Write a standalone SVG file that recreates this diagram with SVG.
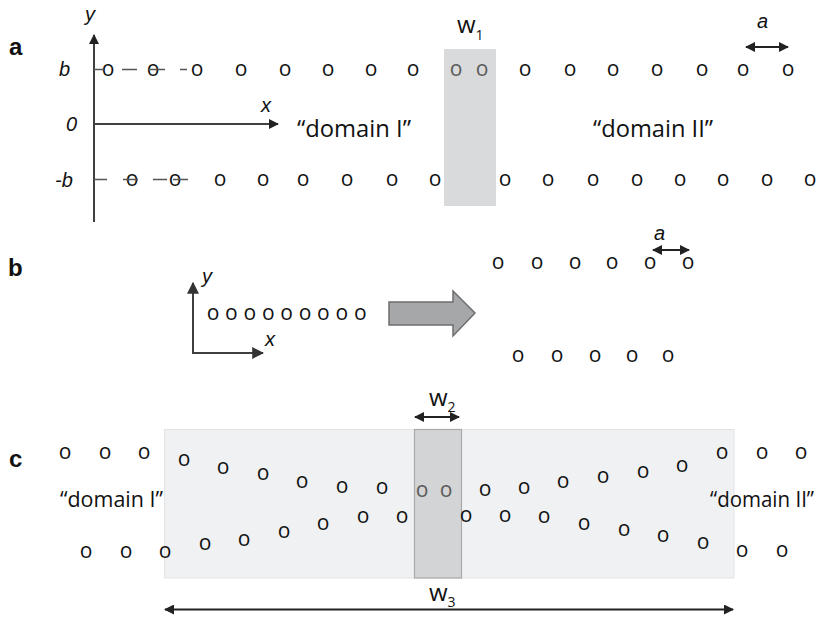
<svg xmlns="http://www.w3.org/2000/svg" width="819" height="619" viewBox="0 0 819 619">
<defs>
<marker id="ah" viewBox="0 0 10 10" refX="9" refY="5" markerWidth="5" markerHeight="5" orient="auto-start-reverse" markerUnits="strokeWidth">
<path d="M0,0 L10,5 L0,10 Z" fill="#222"/>
</marker>
<marker id="ah2" viewBox="0 0 10 10" refX="9" refY="5" markerWidth="6" markerHeight="6" orient="auto-start-reverse" markerUnits="strokeWidth">
<path d="M0,0 L10,5 L0,10 Z" fill="#333"/>
</marker>
<style>
.o{font-family:"Open Sans","Liberation Sans",sans-serif;font-size:21px;fill:#111;text-anchor:middle}
.og{fill:#5a5a5a}
.lab{font-family:"Liberation Sans",Arial,sans-serif;font-weight:bold;font-size:24px;fill:#111}
.it{font-family:"Liberation Sans",Arial,sans-serif;font-style:italic;font-size:20px;fill:#111}
.dom{font-family:"Open Sans","Liberation Sans",sans-serif;fill:#111}
.w{font-family:"Open Sans","Liberation Sans",sans-serif;font-size:24px;fill:#111}
.ax{stroke:#404040;stroke-width:2;fill:none}
.dash{stroke:#555;stroke-width:1.5;fill:none}
.dim{stroke:#222;stroke-width:2;fill:none}
</style>
</defs>
<rect width="819" height="619" fill="#fff"/>

<g id="panel-a">
<text class="lab" x="9" y="55">a</text>
<rect id="w1-region" x="444" y="49" width="52" height="157" fill="#d9dadb"/>
<text class="it" x="85" y="21">y</text>
<text class="it" x="261" y="112">x</text>
<text class="it" x="59" y="76">b</text>
<text class="it" x="66" y="131">0</text>
<text class="it" x="55" y="187">-b</text>
<text class="w" x="457" y="33">w<tspan font-size="14" dy="7">1</tspan></text>
<text class="it" x="757" y="28">a</text>
<text class="dom" font-size="24" x="297" y="137" textLength="114" lengthAdjust="spacingAndGlyphs">“domain I”</text>
<text class="dom" font-size="24" x="593" y="137" textLength="120" lengthAdjust="spacingAndGlyphs">“domain II”</text>
<g id="a-top-row">
<text class="o" x="108" y="76">o</text><text class="o" x="153" y="76">o</text><text class="o" x="197" y="76">o</text><text class="o" x="241" y="76">o</text><text class="o" x="285" y="76">o</text><text class="o" x="328" y="76">o</text><text class="o" x="371" y="76">o</text><text class="o" x="413" y="76">o</text>
<text class="o og" x="456" y="76">o</text><text class="o og" x="482" y="76">o</text>
<text class="o" x="525" y="76">o</text><text class="o" x="570" y="76">o</text><text class="o" x="613" y="76">o</text><text class="o" x="657" y="76">o</text><text class="o" x="702" y="76">o</text><text class="o" x="743" y="76">o</text><text class="o" x="788" y="76">o</text>
</g>
<g id="a-bottom-row">
<text class="o" x="132" y="186">o</text><text class="o" x="175" y="186">o</text><text class="o" x="220" y="186">o</text><text class="o" x="263" y="186">o</text><text class="o" x="303" y="186">o</text><text class="o" x="347" y="186">o</text><text class="o" x="392" y="186">o</text><text class="o" x="435" y="186">o</text>
<text class="o" x="505" y="186">o</text><text class="o" x="548" y="186">o</text><text class="o" x="593" y="186">o</text><text class="o" x="637" y="186">o</text><text class="o" x="680" y="186">o</text><text class="o" x="723" y="186">o</text><text class="o" x="767" y="186">o</text><text class="o" x="810" y="186">o</text>
</g>
</g>

<g id="panel-b">
<text class="lab" x="8" y="276">b</text>
<text class="it" x="202" y="283">y</text>
<text class="it" x="265" y="346">x</text>
<text class="it" x="654" y="240">a</text>
<g id="b-chain">
<text class="o" x="213" y="320">o</text><text class="o" x="231.4" y="320">o</text><text class="o" x="249.8" y="320">o</text><text class="o" x="268.2" y="320">o</text><text class="o" x="286.6" y="320">o</text><text class="o" x="305" y="320">o</text><text class="o" x="323.4" y="320">o</text><text class="o" x="341.8" y="320">o</text><text class="o" x="360.2" y="320">o</text>
</g>
<g id="b-top-row">
<text class="o" x="498" y="269">o</text><text class="o" x="537" y="269">o</text><text class="o" x="575" y="269">o</text><text class="o" x="612" y="269">o</text><text class="o" x="650" y="269">o</text><text class="o" x="688" y="269">o</text>
</g>
<g id="b-bottom-row">
<text class="o" x="518" y="362">o</text><text class="o" x="557" y="362">o</text><text class="o" x="595" y="362">o</text><text class="o" x="632" y="362">o</text><text class="o" x="668" y="362">o</text>
</g>
<polygon id="b-big-arrow" points="389,302 453,302 453,291 475,313 453,336 453,325 389,325" fill="#a6a7a9" stroke="#6d6e70" stroke-width="1.5"/>
</g>

<g id="panel-c">
<text class="lab" x="9" y="467">c</text>
<rect id="w3-region" x="164.5" y="429.5" width="569.5" height="148.5" fill="#f0f1f2" stroke="#e2e3e4" stroke-width="1"/>
<rect id="w2-region" x="414.5" y="429.5" width="47" height="148.5" fill="#d3d4d6" stroke="#a9aaac" stroke-width="1.2"/>
<text class="w" x="429" y="406">w<tspan font-size="14" dy="6">2</tspan></text>
<text class="w" x="429" y="601">w<tspan font-size="14" dy="6">3</tspan></text>
<text class="dom" font-size="22" x="60" y="507" textLength="103" lengthAdjust="spacingAndGlyphs">“domain I”</text>
<text class="dom" font-size="21" x="710" y="507" textLength="104" lengthAdjust="spacingAndGlyphs">“domain II”</text>
<g id="c-upper-chain">
<text class="o" x="65" y="459">o</text><text class="o" x="105" y="459">o</text><text class="o" x="144" y="459">o</text>
<text class="o" x="184" y="466">o</text><text class="o" x="223" y="474">o</text><text class="o" x="263" y="480">o</text><text class="o" x="302" y="488">o</text><text class="o" x="342" y="493">o</text><text class="o" x="382" y="494">o</text>
<text class="o og" x="422" y="497">o</text><text class="o og" x="446" y="497">o</text>
<text class="o" x="485" y="496">o</text><text class="o" x="524" y="494">o</text><text class="o" x="563" y="488">o</text><text class="o" x="603" y="483">o</text><text class="o" x="643" y="478">o</text><text class="o" x="682" y="472">o</text>
<text class="o" x="722" y="459">o</text><text class="o" x="762" y="459">o</text><text class="o" x="801" y="459">o</text>
</g>
<g id="c-lower-chain">
<text class="o" x="86" y="558">o</text><text class="o" x="126" y="558">o</text><text class="o" x="165" y="558">o</text>
<text class="o" x="205" y="550">o</text><text class="o" x="244" y="546">o</text><text class="o" x="284" y="538">o</text><text class="o" x="323" y="530">o</text><text class="o" x="363" y="523">o</text><text class="o" x="402" y="523">o</text>
<text class="o" x="466" y="522">o</text><text class="o" x="505" y="522">o</text><text class="o" x="544" y="523">o</text><text class="o" x="584" y="530">o</text><text class="o" x="624" y="536">o</text><text class="o" x="663" y="542">o</text><text class="o" x="703" y="549">o</text>
<text class="o" x="742" y="557">o</text><text class="o" x="782" y="557">o</text>
</g>
</g>

<g id="connectors">
<path class="ax" d="M94,222 L94,35" marker-end="url(#ah)"/>
<path class="ax" d="M94,124 L278,124" marker-end="url(#ah)"/>
<path class="dash" d="M94,69.5 H104 M122,69.5 H137 M148,69.5 H165 M180,69.5 H187"/>
<path class="dash" d="M94,179.5 H107 M123,179.5 H138 M153,179.5 H167 M173,179.5 H188"/>
<path class="dim" d="M746,47 L788,47" marker-start="url(#ah)" marker-end="url(#ah)"/>
<path class="ax" stroke-width="1.5" d="M193,283 L193,353 L263,353" marker-start="url(#ah2)" marker-end="url(#ah2)"/>
<path class="dim" d="M653,250 L689,250" marker-start="url(#ah)" marker-end="url(#ah)"/>
<path class="dim" d="M415,417 L459,417" marker-start="url(#ah)" marker-end="url(#ah)"/>
<path class="dim" d="M165,609.5 L733,609.5" marker-start="url(#ah)" marker-end="url(#ah)"/>
</g>
</svg>
